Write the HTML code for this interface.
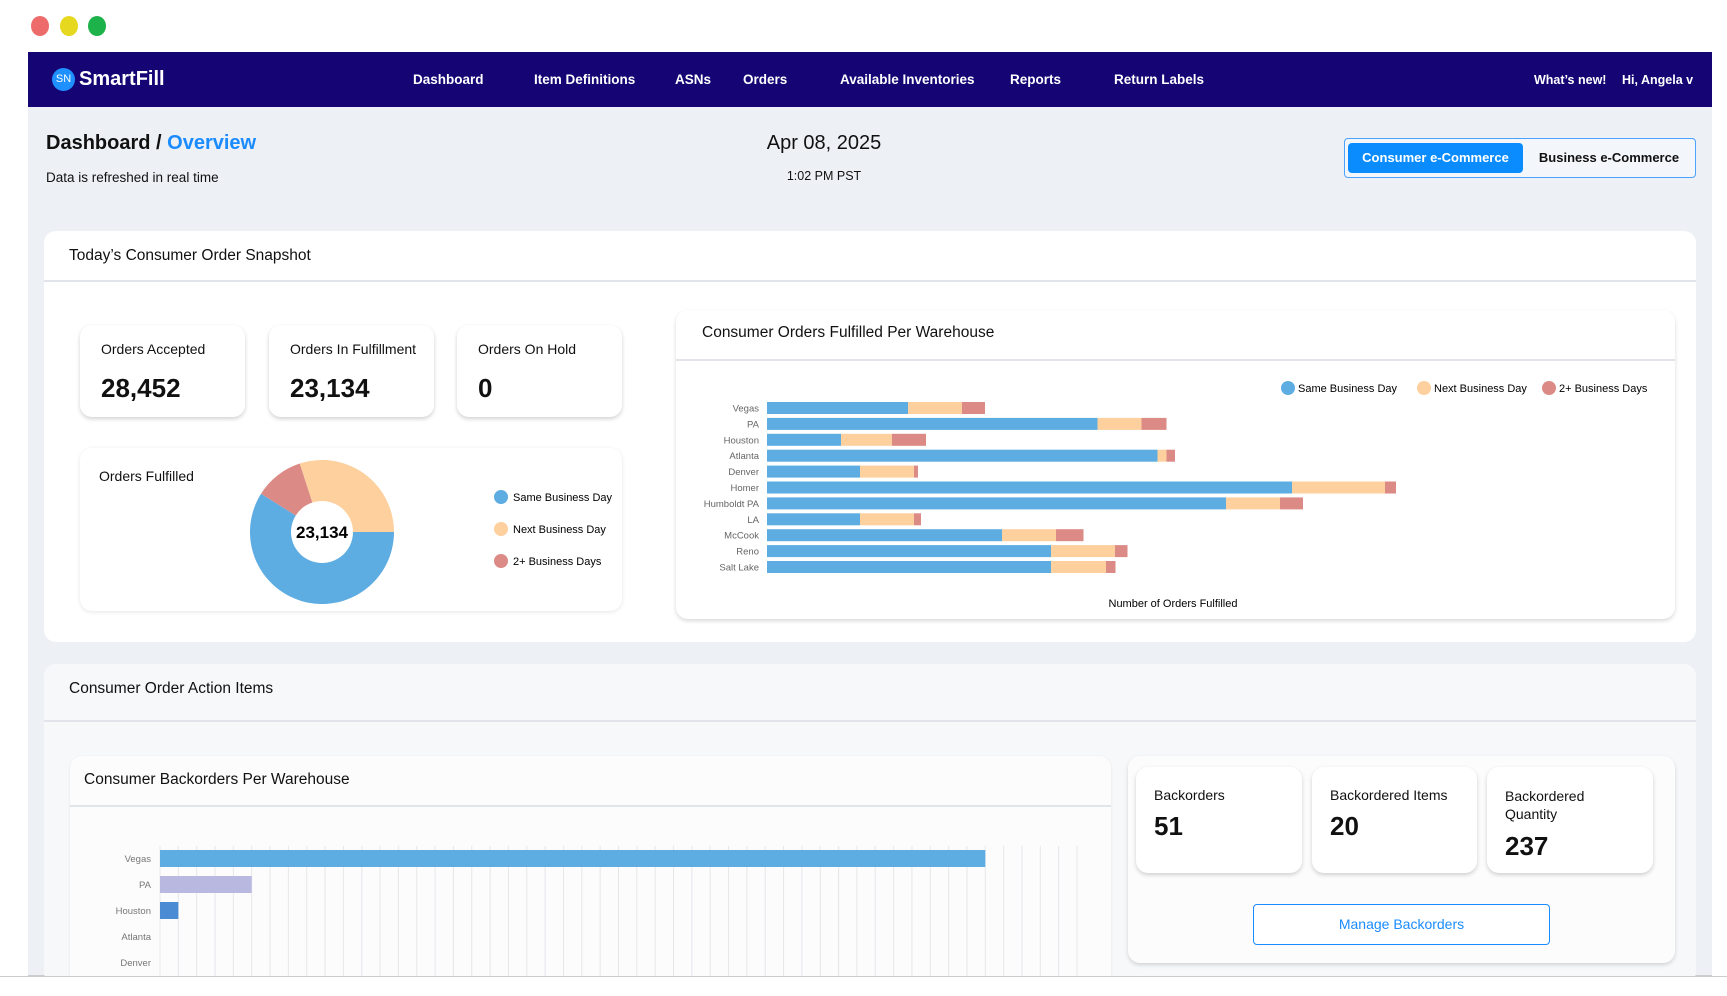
<!DOCTYPE html>
<html><head><meta charset="utf-8"><style>
*{box-sizing:border-box;margin:0;padding:0}
body{width:1727px;height:996px;background:#fff;font-family:"Liberation Sans",sans-serif;position:relative;overflow:hidden;color:#111}
.a{position:absolute}
.dot{position:absolute;width:18px;height:20px;border-radius:50%}
.nav{left:28px;top:52px;width:1684px;height:55px;background:#150474}
.nav span{position:absolute;color:#fff;font-size:13.5px;font-weight:bold;top:20px}
.content{left:28px;top:107px;width:1684px;height:869px;background:#edf0f5;border-bottom:1px solid #ccc}
.card{position:absolute;background:#fff;border-radius:12px}
.kpi{position:absolute;background:#fff;border-radius:12px;box-shadow:0 2px 4px rgba(0,0,0,.18)}
.kpi .l{position:absolute;left:21px;top:16px;font-size:14px}
.kpi .v{position:absolute;left:21px;top:48px;font-size:26px;font-weight:bold}
.hr{position:absolute;height:2px;background:#e1e4ea}
.t{position:absolute;font-size:15.5px}
</style></head><body>
<div class="dot" style="left:31px;top:16px;background:#ee6b6b"></div>
<div class="dot" style="left:60px;top:16px;background:#e6d81e"></div>
<div class="dot" style="left:88px;top:16px;background:#1eb24a"></div>

<div class="a nav">
  <div class="a" style="left:24px;top:16px;width:23px;height:23px;border-radius:50%;background:#1e90ff;color:#fff;font-size:11px;line-height:23px;text-align:center">SN</div>
  <span style="left:51px;top:16px;font-size:20px">SmartFill</span>
  <span style="left:385px">Dashboard</span>
  <span style="left:506px">Item Definitions</span>
  <span style="left:647px">ASNs</span>
  <span style="left:715px">Orders</span>
  <span style="left:812px">Available Inventories</span>
  <span style="left:982px">Reports</span>
  <span style="left:1086px">Return Labels</span>
  <span style="left:1506px;font-size:12.5px;top:21px">What’s new!</span>
  <span style="left:1594px;font-size:12.5px;top:21px">Hi, Angela v</span>
</div>

<div class="a content"></div>
<div class="a" style="left:46px;top:132px;font-size:20px;font-weight:bold">Dashboard / <span style="color:#1a8cff">Overview</span></div>
<div class="a" style="left:46px;top:170px;font-size:13.5px">Data is refreshed in real time</div>
<div class="a" style="left:724px;top:132px;width:200px;text-align:center;font-size:20px">Apr 08, 2025</div>
<div class="a" style="left:724px;top:169px;width:200px;text-align:center;font-size:12.5px">1:02 PM PST</div>
<div class="a" style="left:1344px;top:138px;width:352px;height:40px;border:1.5px solid #4aa3ff;border-radius:4px;background:#f3f6fb">
  <div class="a" style="left:3px;top:4px;width:175px;height:30px;background:#0a8cff;border-radius:4px;color:#fff;font-size:13px;font-weight:bold;text-align:center;line-height:30px">Consumer e-Commerce</div>
  <div class="a" style="left:180px;top:4px;width:168px;height:30px;font-size:13px;font-weight:bold;text-align:center;line-height:30px">Business e-Commerce</div>
</div>

<!-- Snapshot -->
<div class="card" style="left:44px;top:231px;width:1652px;height:411px"></div>
<div class="t" style="left:69px;top:247px">Today’s Consumer Order Snapshot</div>
<div class="hr" style="left:44px;top:280px;width:1652px"></div>

<div class="kpi" style="left:80px;top:325px;width:165px;height:92px"><div class="l">Orders Accepted</div><div class="v">28,452</div></div>
<div class="kpi" style="left:269px;top:325px;width:165px;height:92px"><div class="l">Orders In Fulfillment</div><div class="v">23,134</div></div>
<div class="kpi" style="left:457px;top:325px;width:165px;height:92px"><div class="l">Orders On Hold</div><div class="v">0</div></div>

<div class="kpi" style="left:80px;top:448px;width:542px;height:163px;box-shadow:0 1px 4px rgba(0,0,0,.1)">
  <div class="a" style="left:19px;top:20px;font-size:14px">Orders Fulfilled</div>
</div>
<svg class="a" id="donut" style="left:0;top:0" width="1727" height="996" pointer-events="none"></svg>

<!-- Warehouse chart card -->
<div class="kpi" style="left:676px;top:310px;width:999px;height:309px;box-shadow:0 2px 4px rgba(0,0,0,.15)"></div>
<div class="t" style="left:702px;top:324px">Consumer Orders Fulfilled Per Warehouse</div>
<div class="hr" style="left:676px;top:359px;width:999px"></div>
<svg class="a" id="stack" style="left:0;top:0" width="1727" height="996"></svg>

<!-- Action items -->
<div class="card" style="left:44px;top:664px;width:1652px;height:320px;background:#f7f8fa"></div>
<div class="t" style="left:69px;top:680px">Consumer Order Action Items</div>
<div class="hr" style="left:44px;top:720px;width:1652px"></div>
<div class="card" style="left:70px;top:756px;width:1041px;height:240px;background:#fcfcfc;box-shadow:0 1px 3px rgba(0,0,0,.08)"></div>
<div class="t" style="left:84px;top:771px">Consumer Backorders Per Warehouse</div>
<div class="hr" style="left:70px;top:805px;width:1041px"></div>
<svg class="a" id="back" style="left:0;top:0" width="1727" height="976"></svg>

<div class="card" style="left:1128px;top:756px;width:547px;height:207px;background:#fcfcfc;box-shadow:0 2px 4px rgba(0,0,0,.15)"></div>
<div class="kpi" style="left:1136px;top:767px;width:166px;height:106px"><div class="l" style="left:18px;top:20px">Backorders</div><div class="v" style="left:18px;top:44px">51</div></div>
<div class="kpi" style="left:1312px;top:767px;width:165px;height:106px"><div class="l" style="left:18px;top:20px">Backordered Items</div><div class="v" style="left:18px;top:44px">20</div></div>
<div class="kpi" style="left:1487px;top:767px;width:166px;height:106px"><div class="l" style="left:18px;top:20px;line-height:18px">Backordered<br>Quantity</div><div class="v" style="left:18px;top:64px">237</div></div>
<div class="a" style="left:1253px;top:904px;width:297px;height:41px;border:1.5px solid #1a8cff;border-radius:4px;background:#fff;color:#1a8cff;font-size:14px;text-align:center;line-height:38px">Manage Backorders</div>

<div class="a" style="left:0;top:976px;width:1727px;height:20px;background:#fff;border-top:1px solid #ccc"></div>

<script>
const NS="http://www.w3.org/2000/svg";
function mk(svg,tag,at,txt){const e=document.createElementNS(NS,tag);for(const k in at)e.setAttribute(k,at[k]);if(txt!==undefined)e.textContent=txt;svg.appendChild(e);return e;}
const COLORS=["#5dade2","#fdd09e","#dc8a85"];
const seriesNames=["Same Business Day","Next Business Day","2+ Business Days"];

// Donut data (same, next, 2+)
const donutValues=[13630,6940,2564];
const donutTotalLabel="23,134";
const donutOrder=[0,2,1];

// Stacked bar data
const warehouses=["Vegas","PA","Houston","Atlanta","Denver","Homer","Humboldt PA","LA","McCook","Reno","Salt Lake"];
const sameDay=[282,661,148,781,186,1050,918,186,470,568,568];
const nextDay=[108,88,102,18,108,186,108,108,108,128,110];
const twoPlus=[46,50,68,17,8,22,46,14,55,25,19];

// Backorders data
const backWarehouses=["Vegas","PA","Houston","Atlanta","Denver"];
const backValues=[45,5,1,0,0];
const backColors=["#5dade2","#b9b8e0","#4a8bd4","#5dade2","#5dade2"];
const backMax=50;

// ---- donut
(function(){
 const s=document.getElementById('donut');const cx=322,cy=532,R=72,r=31;
 const tot=donutValues.reduce((a,b)=>a+b,0);
 let a0=90;
 donutOrder.forEach(i=>{
  const v=donutValues[i];
  const a1=a0+v/tot*360;
  const p=(a,rad)=>[cx+rad*Math.sin(a*Math.PI/180),cy-rad*Math.cos(a*Math.PI/180)];
  const [x0,y0]=p(a0,R),[x1,y1]=p(a1,R),[x2,y2]=p(a1,r),[x3,y3]=p(a0,r);
  const lg=(a1-a0)>180?1:0;
  const e=mk(s,'path',{d:`M${x0},${y0}A${R},${R} 0 ${lg} 1 ${x1},${y1}L${x2},${y2}A${r},${r} 0 ${lg} 0 ${x3},${y3}Z`,fill:COLORS[i]});
  
  
  a0=a1;
 });
 const t=mk(s,'text',{x:cx,y:cy+6,'text-anchor':'middle','font-size':17,'font-weight':'bold','font-family':'Liberation Sans'},donutTotalLabel);
 
 
 seriesNames.forEach((n,i)=>{
  const y=497+i*32;
  const c=mk(s,'circle',{cx:501,cy:y,r:7,fill:COLORS[i]});
  
  
  const tx=mk(s,'text',{x:513,y:y+4,'font-size':11,'font-family':'Liberation Sans'},n);
  
  
 });
})();

// ---- stacked bar
(function(){
 const s=document.getElementById('stack');
 const x0=767,k=0.5,y0=408,step=15.9,h=12;
 const X=v=>x0+v*k;
 warehouses.forEach((w,i)=>{
  const cy=y0+i*step;
  const lb=mk(s,'text',{x:759,y:cy+3.5,'text-anchor':'end','font-size':9.5,fill:'#666','font-family':'Liberation Sans'},w);
  
  
  let acc=0;
  [sameDay,nextDay,twoPlus].forEach((arr,j)=>{
   const r=mk(s,'rect',{x:X(acc),y:cy-h/2,width:arr[i]*k,height:h,fill:COLORS[j]});
   
   
   acc+=arr[i];
  });
 });
 const lx=[1288,1424,1549];
 seriesNames.forEach((n,i)=>{
  const c=mk(s,'circle',{cx:lx[i],cy:388,r:7,fill:COLORS[i]});
  
  
  const t=mk(s,'text',{x:lx[i]+10,y:392,'font-size':11,'font-family':'Liberation Sans'},n);
  
  
 });
 const at=mk(s,'text',{x:1173,y:607,'text-anchor':'middle','font-size':11,'font-family':'Liberation Sans'},'Number of Orders Fulfilled');
 
 
})();

// ---- backorders
(function(){
 const s=document.getElementById('back');
 const x0=160,x1=1077,top=846,y0=858.5,step=26,h=17;
 const X=v=>x0+v/backMax*(x1-x0);
 for(let g=0;g<=backMax;g++){
  const l=mk(s,'line',{x1:X(g),x2:X(g),y1:top,y2:976,stroke:'#e6e7eb','stroke-width':1});
  
  
 }
 backWarehouses.forEach((w,i)=>{
  const cy=y0+i*step;
  const t=mk(s,'text',{x:151,y:cy+3.5,'text-anchor':'end','font-size':9.5,fill:'#777','font-family':'Liberation Sans'},w);
  
  
  if(backValues[i]>0){
   const r=mk(s,'rect',{x:x0,y:cy-h/2,width:X(backValues[i])-x0,height:h,fill:backColors[i]});
   
   
  }
 });
})();
</script>
</body></html>
